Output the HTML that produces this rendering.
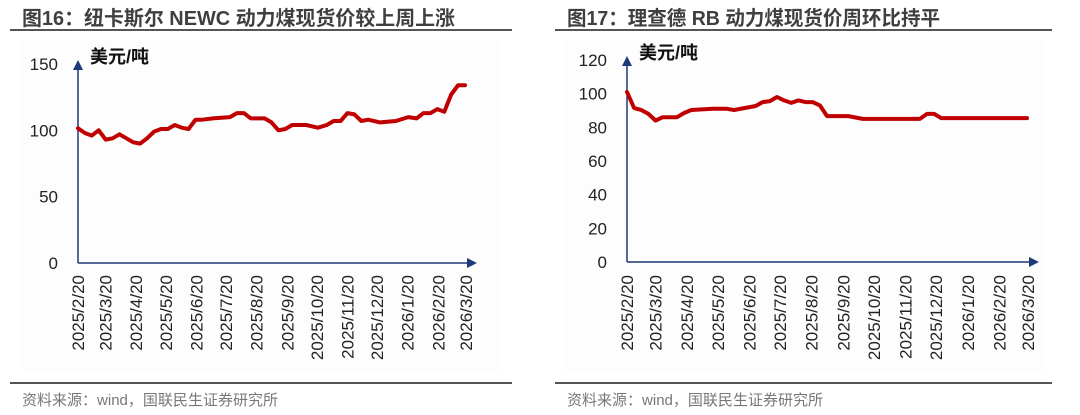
<!DOCTYPE html>
<html><head><meta charset="utf-8">
<style>
html,body{margin:0;padding:0;background:#fff;width:1080px;height:415px;overflow:hidden}
svg{display:block;font-family:"Liberation Sans","Noto Sans CJK SC",sans-serif}
</style></head>
<body>
<svg id="chart" width="1080" height="415" viewBox="0 0 1080 415">
  <rect x="0" y="0" width="1080" height="415" fill="#fff"/>
  <rect x="22" y="40" width="478" height="332" fill="#fdfdfd"/>
  <rect x="565" y="40" width="478" height="332" fill="#fdfdfd"/>
  <text x="22" y="25" font-size="20" font-weight="bold" fill="#3f3f3f" textLength="433" lengthAdjust="spacingAndGlyphs">图16：纽卡斯尔 NEWC 动力煤现货价较上周上涨</text>
  <line x1="10" y1="30" x2="512" y2="30" stroke="#555" stroke-width="2"/>
  <text x="567" y="25" font-size="20" font-weight="bold" fill="#3f3f3f" textLength="373" lengthAdjust="spacingAndGlyphs">图17：理查德 RB 动力煤现货价周环比持平</text>
  <line x1="555" y1="30" x2="1052" y2="30" stroke="#555" stroke-width="2"/>
  <line x1="10" y1="383" x2="512" y2="383" stroke="#555" stroke-width="2"/>
  <line x1="555" y1="383" x2="1052" y2="383" stroke="#555" stroke-width="2"/>
  <text x="22" y="405" font-size="15" fill="#777" textLength="256" lengthAdjust="spacingAndGlyphs">资料来源：wind，国联民生证券研究所</text>
  <text x="567" y="405" font-size="15" fill="#777" textLength="256" lengthAdjust="spacingAndGlyphs">资料来源：wind，国联民生证券研究所</text>
  <g id="left"></g>
  <g id="right"></g>
</svg>
<script>
const tickLabels = ["2025/2/20","2025/3/20","2025/4/20","2025/5/20","2025/6/20","2025/7/20","2025/8/20","2025/9/20","2025/10/20","2025/11/20","2025/12/20","2026/1/20","2026/2/20","2026/3/20"];
const tickDays = [0,28,59,89,120,150,181,212,242,273,303,334,365,393];
const leftYTicks = [0,50,100,150];
const rightYTicks = [0,20,40,60,80,100,120];
const newcWeeks = [0,1,2,3,4,5,6,7,8,9,10,11,12,13,14,15,16,17,18,19.5,22,23,24,25,27,28,29,30,31,33,34.7,36,37,38,39,40,41,42,43.7,46,47.8,49,50,51,52,53,54,55,56];
const newcValues = [101.5,98,96,100,93,94,97,94,91,90,94,99,101,101,104,102,101,108,108,109,110,113,113,109,109,106,100,101,104,104,102,104,107,107,113,112,107,108,106,107,110,109,113,113,116,114,127,134,134];
const rbWeeks = [0,1,2,3,4,5,7,8,9,12,14,15,16.5,18,19,20,21,22,23,24,25,26,27,28,31,33,41,42,43,44,56];
const rbValues = [101,91.5,90.3,88,84,86,86,88.5,90.3,91,91,90.3,91.5,92.7,95,95.6,98,96,94.5,96,95,95,93,86.7,86.7,85,85,88,88,85.5,85.5];

const NS = "http://www.w3.org/2000/svg";
function mk(tag, attrs, parent){const e=document.createElementNS(NS,tag);for(const k in attrs)e.setAttribute(k,attrs[k]);parent.appendChild(e);return e;}

function drawPanel(g, cfg){
  const xS = w => cfg.x0 + w*(cfg.x1-cfg.x0)/56;
  const yS = v => cfg.y0 - v*(cfg.y0-cfg.yTop)/cfg.yMax;
  const ya = mk('line',{x1:cfg.x0,y1:cfg.y0,x2:cfg.x0,y2:cfg.yTop-2,stroke:'#1f3a7a','stroke-width':1.5},g);
  
  
  mk('polygon',{points:`${cfg.x0-5},${cfg.yTop+6} ${cfg.x0},${cfg.yTop-4} ${cfg.x0+5},${cfg.yTop+6}`,fill:'#1f3a7a'},g);
  const xa = mk('line',{x1:cfg.x0,y1:cfg.y0,x2:cfg.x1+6,y2:cfg.y0,stroke:'#1f3a7a','stroke-width':1.5},g);
  
  
  mk('polygon',{points:`${cfg.x1+2},${cfg.y0-5} ${cfg.x1+12},${cfg.y0} ${cfg.x1+2},${cfg.y0+5}`,fill:'#1f3a7a'},g);
  const unit = mk('text',{x:cfg.x0+12,y:cfg.yTop-1,'font-size':18,'font-weight':'bold',fill:'#111'},g);
  unit.textContent='美元/吨';
  
  
  cfg.yTicks.forEach(v=>{
    const t = mk('text',{x:cfg.x0-20,y:yS(v)+6,'font-size':17,'text-anchor':'end',fill:'#222'},g);
    t.textContent=v;
    
    
  });
  tickLabels.forEach((lab,i)=>{
    const x = xS(tickDays[i]/7)+6;
    const t = mk('text',{x:x,y:275,'font-size':17,'text-anchor':'end',fill:'#222',transform:`rotate(-90 ${x} 275)`},g);
    t.textContent=lab;
    
    
  });
  const pts = cfg.weeks.map((w,i)=>xS(w).toFixed(1)+','+yS(cfg.values[i]).toFixed(1)).join(' ');
  const p = mk('polyline',{points:pts,fill:'none',stroke:'#c00000','stroke-width':4,'stroke-linejoin':'round','stroke-linecap':'round'},g);
  
  
}
drawPanel(document.getElementById('left'),{x0:78,x1:465,y0:263,yTop:64,yMax:150,yTicks:leftYTicks,weeks:newcWeeks,values:newcValues,name:'newc-price-line'});
drawPanel(document.getElementById('right'),{x0:627,x1:1027,y0:262,yTop:60,yMax:120,yTicks:rightYTicks,weeks:rbWeeks,values:rbValues,name:'rb-price-line'});
</script>
</body></html>
